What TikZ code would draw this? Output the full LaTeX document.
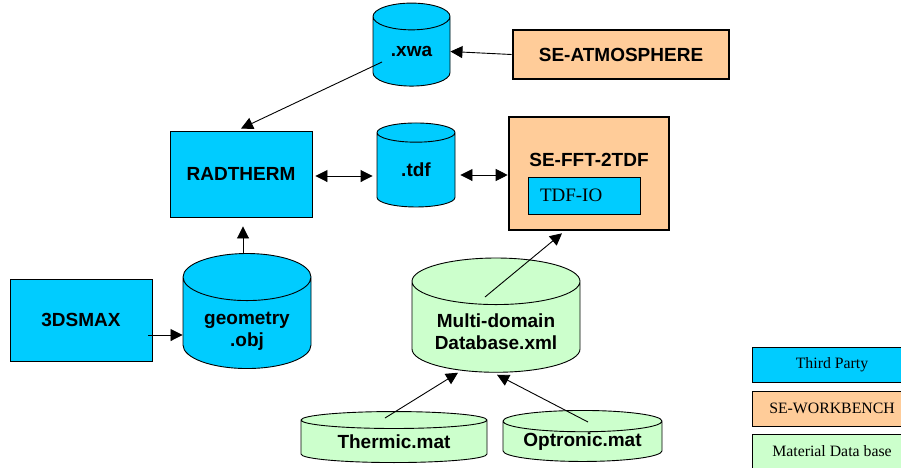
\documentclass[tikz,border=0pt]{standalone}
\usepackage{fontspec}
\setmainfont{Liberation Serif}
\setsansfont{Liberation Sans}
\usetikzlibrary{shapes.geometric,arrows.meta}

\definecolor{partyblue}{HTML}{00CCFF}
\definecolor{benchorange}{HTML}{FFCC99}
\definecolor{matgreen}{HTML}{CCFFCC}

% two lines of text, dropped a little inside a cylinder
\newcommand{\dbtext}[2]{\raisebox{-#1}[\height][\depth]{\begin{tabular}{@{}c@{}}#2\end{tabular}}}

\tikzset{
  toolbox/.style={draw, fill=partyblue, line width=0.9pt, inner sep=0pt,
    font=\sffamily\bfseries\fontsize{19}{22}\selectfont},
  benchbox/.style={draw, fill=benchorange, line width=2.6pt, inner sep=0pt,
    font=\sffamily\bfseries\fontsize{19}{22}\selectfont},
  db/.style={cylinder, shape border rotate=90, draw, line width=0.9pt,
    inner sep=0pt, align=center,
    font=\sffamily\bfseries\fontsize{19}{22}\selectfont},
  legendbox/.style={draw, line width=0.9pt, inner sep=0pt,
    minimum width=160pt, minimum height=35pt,
    font=\fontsize{15.8}{18}\selectfont},
  arr/.style={-{Triangle[length=12pt,width=12pt]}, line width=0.9pt},
  dblarr/.style={{Triangle[length=12pt,width=12pt]}-{Triangle[length=12pt,width=12pt]}, line width=0.9pt}
}

\begin{document}
\begin{tikzpicture}[x=1pt,y=-1pt]
  \path[use as bounding box, clip] (0,0) rectangle (901,467);

  % tools and files
  \node[db, fill=partyblue, minimum width=77pt, minimum height=83pt, aspect=0.65] (xwa) at (411.5,51.5) {.xwa};
  \node[benchbox, minimum width=216pt, minimum height=49pt] (atmos) at (621,54.5) {SE-ATMOSPHERE};
  \node[toolbox, minimum width=142pt, minimum height=86pt] (radtherm) at (241,174) {RADTHERM};
  \node[db, fill=partyblue, minimum width=78pt, minimum height=84pt, aspect=0.65] (tdf) at (416,170) {.tdf};
  \node[benchbox, minimum width=160pt, minimum height=113pt] (fft) at (589,173.5) {};
  \node[font=\sffamily\bfseries\fontsize{19}{22}\selectfont] (fftname) at (589,160) {SE-FFT-2TDF};
  \node[toolbox, font=\fontsize{19}{22}\selectfont, minimum width=112pt, minimum height=37pt,
    text width=88pt, align=left] (tdfio) at (584,195.5) {TDF-IO};
  \node[toolbox, minimum width=142pt, minimum height=82pt] (max) at (81,320) {3DSMAX};
  \node[db, fill=partyblue, minimum width=128pt, minimum height=110pt, aspect=0.55] (geometry) at (247,323) {\dbtext{8pt}{geometry\\.obj}};

  % material data base
  \node[db, fill=matgreen, minimum width=168pt, minimum height=102pt, aspect=0.38] (multi) at (496,327) {\dbtext{7pt}{Multi-domain\\Database.xml}};
  \node[db, fill=matgreen, minimum width=186pt, minimum height=51pt, aspect=0.15] (thermic) at (394,441.5) {Thermic.mat};
  \node[db, fill=matgreen, minimum width=159pt, minimum height=51pt, aspect=0.18] (optronic) at (582.5,441.5) {Optronic.mat};

  % legend
  \node[legendbox, fill=partyblue] (lgparty) at (832,364.5) {Third Party};
  \node[legendbox, fill=benchorange] (lgbench) at (832,408.5) {SE-WORKBENCH};
  \node[legendbox, fill=matgreen] (lgmat) at (832,451.5) {Material Data base};

  % connectors
  \draw[arr] (atmos.west) -- (xwa.east);
  \draw[arr] ([shift={(-29.5,10.5)}]xwa.center) -- ([yshift=2pt]radtherm.north);
  \draw[dblarr, shorten <=3pt, shorten >=4pt] ([yshift=-2pt]radtherm.east) -- ([yshift=-2pt]radtherm.east -| tdf.west);
  \draw[dblarr, shorten <=5pt] ([yshift=-5pt]tdf.east) -- ([yshift=-5pt]tdf.east -| fft.west);
  \draw[arr, shorten >=9pt] ([xshift=-4pt]geometry.north) -- ([xshift=-4pt]geometry.north |- radtherm.south);
  \draw[arr] ([yshift=-15pt,xshift=-4pt]max.east) -- ([yshift=-15pt]max.east -| geometry.west);
  \draw[arr] ([shift={(-11,-30)}]multi.center) -- ([xshift=-27pt,yshift=-2pt]fft.south);
  \draw[arr] ([shift={(-9,-23.5)}]thermic.center) -- ([xshift=-38pt]multi.south);
  \draw[arr] ([shift={(5.5,-19.5)}]optronic.center) -- ([xshift=1pt,yshift=-2pt]multi.south);
\end{tikzpicture}
\end{document}
